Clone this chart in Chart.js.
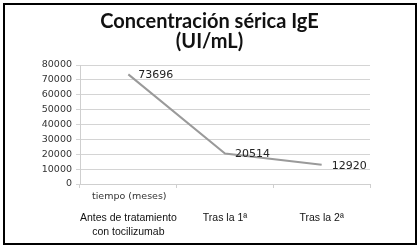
<!DOCTYPE html>
<html>
<head>
<meta charset="utf-8">
<script src="https://cdn.jsdelivr.net/npm/chart.js@4"></script>
<style>
  html, body { margin: 0; padding: 0; background: #fff; }
  #wrap { position: relative; width: 419px; height: 249px; }
  #frame { position: absolute; left: 3px; top: 3px; width: 410px; height: 238px; border: 2px solid #000; pointer-events: none; }
  canvas { position: absolute; left: 0; top: 0; }
</style>
</head>
<body>
<div id="wrap">
  <canvas id="myChart" width="419" height="249"></canvas>
  <div id="frame"></div>
</div>
<script>
const categories = [['Antes de tratamiento', 'con tocilizumab'], 'Tras la 1ª', 'Tras la 2ª'];
const igeValues = [73696, 20514, 12920];
const yTicks = [0, 10000, 20000, 30000, 40000, 50000, 60000, 70000, 80000];
const titleLines = ['Concentración sérica IgE', '(UI/mL)'];
const axisNote = 'tiempo (meses)';

// value labels to the right of each point + the small "tiempo (meses)" note
const valueLabels = {
    id: 'valueLabels',
    afterDatasetsDraw(chart) {
        const ctx = chart.ctx;
        const meta = chart.getDatasetMeta(0);
        ctx.save();
        ctx.fillStyle = '#222';
        ctx.font = '11px "DejaVu Sans"';
        ctx.textAlign = 'left';
        ctx.textBaseline = 'middle';
        meta.data.forEach((pt, i) => {
            ctx.fillText(String(igeValues[i]), pt.x + 10, pt.y + 1);
        });
        ctx.font = '9.5px "DejaVu Sans"';
        ctx.fillStyle = '#333';
        ctx.fillText(axisNote, chart.chartArea.left + 12, chart.chartArea.bottom + 13);
        ctx.restore();
    }
};

const ctx = document.getElementById('myChart').getContext('2d');
const myChart = new Chart(ctx, {
    type: 'line',
    data: {
        labels: categories,
        datasets: [{
            data: igeValues,
            borderColor: '#9a9a9a',
            borderWidth: 2,
            pointRadius: 0,
            tension: 0
        }]
    },
    options: {
        responsive: false,
        animation: false,
        layout: { padding: 0 },
        plugins: {
            legend: { display: false },
            tooltip: { enabled: false },
            title: {
                display: true,
                text: titleLines,
                color: '#111',
                font: { family: 'Lato', size: 20, weight: 'bold', lineHeight: 1.0 },
                padding: { top: 12, bottom: 13 }
            }
        },
        scales: {
            x: {
                offset: true,
                afterFit(scale) { scale.height = 65; },
                grid: {
                    offset: true,
                    drawOnChartArea: false,
                    drawTicks: true,
                    tickLength: 4,
                    color: '#cfcfcf'
                },
                border: { color: '#cfcfcf' },
                ticks: {
                    autoSkip: false,
                    padding: 23,
                    color: '#111',
                    font: { family: 'Liberation Sans', size: 10.5, lineHeight: 1.33 },
                    maxRotation: 0
                }
            },
            y: {
                min: 0,
                max: 80000,
                afterFit(scale) { scale.width = 80; },
                afterBuildTicks(scale) { scale.ticks = yTicks.map(v => ({ value: v })); },
                grid: { color: '#d4d4d4', tickLength: 4 },
                border: { color: '#cfcfcf' },
                ticks: {
                    padding: 4,
                    color: '#333',
                    font: { family: 'DejaVu Sans', size: 9.5 },
                    callback: v => String(v)
                }
            },
            // empty right-hand spacer so the title stays centred on the whole picture
            spacer: {
                type: 'linear',
                position: 'right',
                min: 0,
                max: 1,
                afterFit(scale) { scale.width = 49; },
                grid: { display: false },
                border: { display: false },
                ticks: { display: false }
            }
        }
    },
    plugins: [valueLabels]
});
</script>
</body>
</html>
